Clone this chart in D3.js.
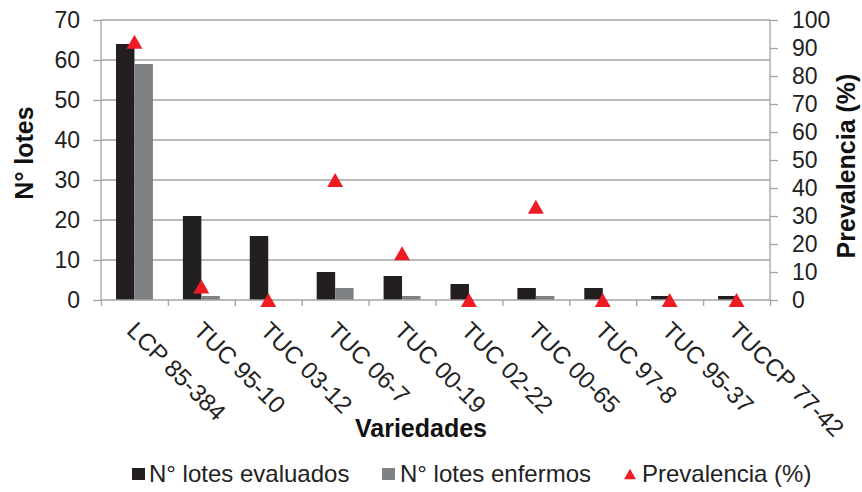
<!DOCTYPE html>
<html>
<head>
<meta charset="utf-8">
<script src="https://cdn.jsdelivr.net/npm/d3@7"></script>
<style>
  html, body { margin: 0; padding: 0; background: #fff; }
  svg { display: block; font-family: "Liberation Sans", Arial, sans-serif; }
</style>
</head>
<body>
<svg id="chart" width="862" height="492"></svg>
<script>
// ---- data ----
const categories = ["LCP 85-384", "TUC 95-10", "TUC 03-12", "TUC 06-7", "TUC 00-19",
                    "TUC 02-22", "TUC 00-65", "TUC 97-8", "TUC 95-37", "TUCCP 77-42"];
const lotesEvaluados = [64, 21, 16, 7, 6, 4, 3, 3, 1, 1];
const lotesEnfermos  = [59, 1, 0, 3, 1, 0, 1, 0, 0, 0];
const prevalencia    = [92.2, 4.8, 0, 42.9, 16.7, 0, 33.3, 0, 0, 0];
const leftTicks  = [0, 10, 20, 30, 40, 50, 60, 70];
const rightTicks = [0, 10, 20, 30, 40, 50, 60, 70, 80, 90, 100];
const seriesNames = ["N° lotes evaluados", "N° lotes enfermos", "Prevalencia (%)"];

// ---- layout ----
const L = 101, R = 770, T = 20, B = 300;
const gridCol = "#a3a3a3";
const colEval = "#231f20", colEnf = "#7f8284", colPrev = "#ed1c24";

const svg = d3.select("#chart");

const x0 = d3.scaleBand().domain(categories).range([L, R]).paddingInner(0).paddingOuter(0);
const bw = x0.bandwidth();
const x1 = d3.scaleBand().domain(["ev", "en"]).range([bw * 0.224, bw * 0.776]).padding(0);
const yL = d3.scaleLinear().domain([0, 70]).range([B, T]);
const yR = d3.scaleLinear().domain([0, 100]).range([B, T]);

// gridlines
svg.append("g").selectAll("line").data(leftTicks.filter(d => d > 0)).join("line")
  .attr("x1", L).attr("x2", R)
  .attr("y1", d => yL(d)).attr("y2", d => yL(d))
  .attr("stroke", gridCol).attr("stroke-width", 1.3);

// left axis
const gLeft = svg.append("g").attr("transform", `translate(${L},0)`)
  .call(d3.axisLeft(yL).tickValues(leftTicks).tickSize(8).tickPadding(13));
gLeft.select(".domain").attr("stroke", gridCol).attr("stroke-width", 1.3).attr("d", `M0,${T}V${B}`);
gLeft.selectAll(".tick line").attr("stroke", gridCol).attr("stroke-width", 1.3);
gLeft.selectAll(".tick text").attr("font-size", 23).attr("fill", "#222")
  .attr("font-family", "Liberation Sans, Arial, sans-serif");

// right axis
const gRight = svg.append("g").attr("transform", `translate(${R},0)`)
  .call(d3.axisRight(yR).tickValues(rightTicks).tickSize(8).tickPadding(14));
gRight.select(".domain").attr("stroke", gridCol).attr("stroke-width", 1.3).attr("d", `M0,${T}V${B}`);
gRight.selectAll(".tick line").attr("stroke", gridCol).attr("stroke-width", 1.3);
gRight.selectAll(".tick text").attr("font-size", 23).attr("fill", "#222")
  .attr("font-family", "Liberation Sans, Arial, sans-serif");

// bars
const gBars = svg.append("g");
gBars.selectAll("rect.ev").data(categories).join("rect").attr("class", "ev")
  .attr("x", d => x0(d) + x1("ev")).attr("width", x1.bandwidth())
  .attr("y", (d, i) => yL(lotesEvaluados[i])).attr("height", (d, i) => B - yL(lotesEvaluados[i]))
  .attr("fill", colEval);
gBars.selectAll("rect.en").data(categories).join("rect").attr("class", "en")
  .attr("x", d => x0(d) + x1("en")).attr("width", x1.bandwidth())
  .attr("y", (d, i) => yL(lotesEnfermos[i])).attr("height", (d, i) => B - yL(lotesEnfermos[i]))
  .attr("fill", colEnf);

// bottom axis (category boundaries)
const xb = d3.scaleLinear().domain([0, categories.length]).range([L, R]);
const gBottom = svg.append("g").attr("transform", `translate(0,${B})`)
  .call(d3.axisBottom(xb).tickValues(d3.range(0, categories.length + 1)).tickSize(6).tickFormat(""));
gBottom.select(".domain").attr("stroke", gridCol).attr("stroke-width", 1.3).attr("d", `M${L},0H${R}`);
gBottom.selectAll(".tick line").attr("stroke", gridCol).attr("stroke-width", 1.3);

// box-centred triangle symbol
const boxTriangle = {
  draw(ctx, size) {
    const w = Math.sqrt(size * 2.3);
    const h = w * 0.88;
    ctx.moveTo(0, -h / 2);
    ctx.lineTo(w / 2, h / 2);
    ctx.lineTo(-w / 2, h / 2);
    ctx.closePath();
  }
};
const tri = d3.symbol().type(boxTriangle).size(110);

svg.append("g").selectAll("path").data(categories).join("path")
  .attr("transform", (d, i) => `translate(${x0(d) + bw / 2},${yR(prevalencia[i])})`)
  .attr("d", tri).attr("fill", colPrev);

// category labels
svg.append("g").selectAll("text").data(categories).join("text")
  .attr("transform", d => `translate(${x0(d) + bw / 2 - 9},${B + 32}) rotate(45)`)
  .attr("text-anchor", "start")
  .attr("font-size", 24).attr("fill", "#222")
  .text(d => d);

// axis titles
svg.append("text").attr("transform", "translate(33,153) rotate(-90)")
  .attr("text-anchor", "middle").attr("font-size", 25).attr("font-weight", "bold").attr("fill", "#111")
  .text("N° lotes");
svg.append("text").attr("transform", "translate(855,166) rotate(-90)")
  .attr("text-anchor", "middle").attr("font-size", 25).attr("font-weight", "bold").attr("fill", "#111")
  .text("Prevalencia (%)");
svg.append("text").attr("x", 421).attr("y", 437)
  .attr("text-anchor", "middle").attr("font-size", 25).attr("font-weight", "bold").attr("fill", "#111")
  .text("Variedades");

// legend
const legendX = [132, 382, 624];
const gLeg = svg.append("g");
gLeg.append("rect").attr("x", legendX[0]).attr("y", 468).attr("width", 13).attr("height", 12).attr("fill", colEval);
gLeg.append("rect").attr("x", legendX[1]).attr("y", 468).attr("width", 13).attr("height", 12).attr("fill", colEnf);
gLeg.append("path").attr("transform", `translate(${legendX[2] + 6},474)`)
  .attr("d", d3.symbol().type(boxTriangle).size(62)).attr("fill", colPrev);
const legTextX = [149, 400, 642];
gLeg.selectAll("text").data(seriesNames).join("text")
  .attr("x", (d, i) => legTextX[i]).attr("y", 482)
  .attr("font-size", 24).attr("fill", "#222")
  .text(d => d);
</script>
</body>
</html>
